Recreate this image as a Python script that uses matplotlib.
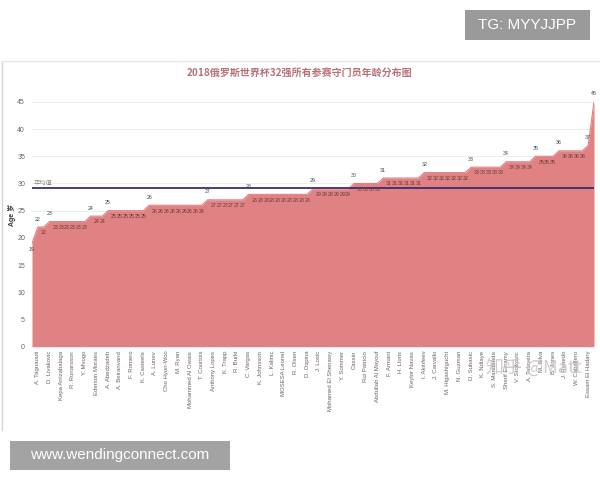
import numpy as np
import matplotlib.pyplot as plt
from matplotlib.patches import Rectangle
from matplotlib.lines import Line2D

plt.rcParams['font.family'] = ['Liberation Sans', 'Noto Sans CJK SC', 'DejaVu Sans']

# 年龄（按从小到大排序）
ages = [19,
        22, 22,
        23, 23, 23, 23, 23, 23, 23,
        24, 24, 24,
        25, 25, 25, 25, 25, 25, 25,
        26, 26, 26, 26, 26, 26, 26, 26, 26, 26,
        27, 27, 27, 27, 27, 27, 27,
        28, 28, 28, 28, 28, 28, 28, 28, 28, 28, 28,
        29, 29, 29, 29, 29, 29, 29,
        30, 30, 30, 30, 30,
        31, 31, 31, 31, 31, 31, 31,
        32, 32, 32, 32, 32, 32, 32, 32,
        33, 33, 33, 33, 33, 33,
        34, 34, 34, 34, 34,
        35, 35, 35, 35,
        36, 36, 36, 36, 36,
        37, 45]

# 横轴上显示出来的名字（隔一个显示一个）
names = ['A. Tagnaouti', 'D. Livakovic', 'Kepa Arrizabalaga', 'R. Runarsson', 'Y. Mvogo',
         'Ederson Moraes', 'A. Abedzadeh', 'A. Beiranvand', 'F. Romero', 'K. Casteels',
         'A. Lunev', 'Cho Hyun-Woo', 'M. Ryan', 'Mohammed Al Owais', 'T. Courtois',
         'Anthony Lopes', 'K. Trapp', 'R. Burki', 'C. Vargas', 'K. Johnsson',
         'L. Kalinic', 'MOSESA Leonel', 'R. Olsen', 'D. Ospina', 'J. Losic',
         'Mohamed El Shenawy', 'Y. Sommer', 'Cassio', 'Rui Patricio', 'Abdullah Al Mayouf',
         'F. Armani', 'H. Lloris', 'Keylor Navas', 'I. Akinfeev', 'J. Carvallo',
         'M. Higashiguchi', 'N. Guzman', 'D. Subasic', 'K. Ndiaye', 'S. Mandanda',
         'Sherif Ekramy', 'V. Stojkovic', 'A. Talavera', 'M. Silva', 'B. Jones',
         'J. Renedo', 'W. Caballero', 'Essam El Hadary']

title = '2018俄罗斯世界杯32强所有参赛守门员年龄分布图'
yticks = [0, 5, 10, 15, 20, 25, 30, 35, 40, 45]

area_color = '#e08183'
x = np.arange(len(ages))
avg = np.mean(ages)

fig = plt.figure(figsize=(6, 4.8), dpi=100)
fig.patch.set_facecolor('white')

ax = fig.add_axes([32 / 600, 1 - 346.7 / 480, (594 - 32) / 600, (346.7 - 93.7) / 480])
ax.fill_between(x, ages, 0, color=area_color, lw=0, zorder=2)
ax.plot(x, ages, color=area_color, lw=0.8, zorder=2)
ax.axhline(avg, color='#3a2f70', lw=1.3, zorder=3)
ax.text(0.3, avg + 0.4, '平均值', fontsize=4.5, color='#888888', va='bottom', ha='left', zorder=4)

# 数据标签
for i, v in enumerate(ages):
    if i > 0 and v > ages[i - 1]:
        ax.text(i, v + 1.0, str(v), fontsize=3.8, color='#2f4f4f', ha='center', va='bottom', zorder=4)
    else:
        ax.text(i, v - 0.6, str(v), fontsize=3.8, color='#6a3c3c', ha='center', va='top', zorder=4)

ax.set_xlim(0, len(ages) - 1)
ax.set_ylim(0, 46.5)
ax.set_yticks(yticks)
ax.set_xticks(x[1::2])
ax.set_xticklabels(names, rotation=90, fontsize=4.3, color='#666666')
ax.tick_params(axis='y', labelsize=5, colors='#666666', length=0, pad=5)
ax.tick_params(axis='x', length=0, pad=3)
ax.grid(axis='y', color='#ebebeb', lw=0.6, zorder=0)
ax.set_axisbelow(True)
for s in ax.spines.values():
    s.set_visible(False)

fig.text(12 / 600, 1 - 215 / 480, 'Age 岁', fontsize=5, fontweight='bold', color='#333333',
         rotation=90, ha='center', va='center')

fig.text(0.5, 1 - 73 / 480, title, ha='center', va='center', fontsize=7.2,
         fontweight='bold', color='#b5727a', family=['Noto Sans CJK SC', 'DejaVu Sans'])

# 截图边框
fig.add_artist(Line2D([2 / 600, 2 / 600], [1 - 62 / 480, 1 - 430 / 480], color='#d6d6d6', lw=1))
fig.add_artist(Line2D([2 / 600, 1], [1 - 61 / 480, 1 - 61 / 480], color='#e6e6e6', lw=1))

# 水印
fig.text(0.81, 1 - 367 / 480, '知乎 @Matt', fontsize=13, color='#c8c8c8', ha='left', va='center',
         family=['Noto Sans CJK SC', 'DejaVu Sans'], alpha=0.9, zorder=5)

fig.add_artist(Rectangle((465 / 600, 1 - 40 / 480), 125 / 600, 30 / 480, color='#9a9a9a', lw=0))
fig.text(527 / 600, 1 - 25 / 480, 'TG: MYYJJPP', fontsize=11, color='white', ha='center', va='center')

fig.add_artist(Rectangle((10 / 600, 1 - 470 / 480), 220 / 600, 29 / 480, color='#a3a3a3', lw=0))
fig.text(120 / 600, 1 - 455.5 / 480, 'www.wendingconnect.com', fontsize=11, color='white',
         ha='center', va='center')

fig.savefig('out.png', dpi=100)
